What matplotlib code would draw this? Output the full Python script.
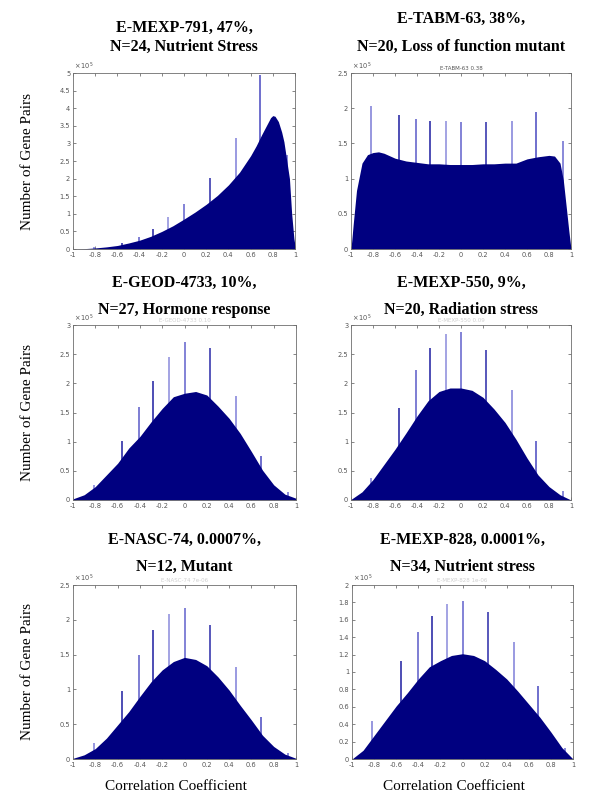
import matplotlib
matplotlib.use("Agg")
import matplotlib.pyplot as plt
from matplotlib.ticker import FormatStrFormatter

plt.rcParams["axes.unicode_minus"] = False

# x positions of the narrow spikes (same for all six data sets)
SPIKE_X = [-0.815, -0.56, -0.405, -0.28, -0.14, 0.0, 0.23, 0.465, 0.685, 0.93]

# envelope of each histogram, counts in units of 1e5
MEXP791_X = [-1, -0.9, -0.8, -0.7, -0.6, -0.5, -0.4, -0.3, -0.2, -0.1, 0, 0.1, 0.2,
             0.3, 0.4, 0.5, 0.6, 0.65, 0.7, 0.75, 0.78, 0.8, 0.82, 0.85, 0.88, 0.9,
             0.95, 0.97, 0.99, 1.0]
MEXP791_Y = [0.0, 0.01, 0.03, 0.06, 0.10, 0.17, 0.25, 0.36, 0.50, 0.66, 0.85, 1.05, 1.27,
             1.52, 1.82, 2.18, 2.65, 2.93, 3.25, 3.55, 3.73, 3.79, 3.77, 3.62, 3.32, 3.05,
             2.0, 1.0, 0.3, 0.1]
MEXP791_SPIKES = [0.05, 0.16, 0.33, 0.57, 0.90, 1.29, 2.01, 3.16, 4.94, 2.66]

TABM63_X = [-1, -0.98, -0.95, -0.9, -0.85, -0.8, -0.75, -0.7, -0.6, -0.5, -0.4, -0.3,
            -0.2, -0.1, 0, 0.1, 0.2, 0.3, 0.4, 0.5, 0.6, 0.7, 0.8, 0.85, 0.9, 0.93,
            0.96, 0.98, 1.0]
TABM63_Y = [0.0, 0.35, 0.83, 1.22, 1.34, 1.37, 1.38, 1.36, 1.29, 1.25, 1.23, 1.21,
            1.21, 1.20, 1.20, 1.20, 1.21, 1.21, 1.22, 1.22, 1.28, 1.31, 1.33, 1.32,
            1.22, 0.98, 0.55, 0.26, 0.0]
TABM63_SPIKES = [2.03, 1.90, 1.85, 1.82, 1.82, 1.80, 1.81, 1.82, 1.94, 1.53]

GRID_X = [-1, -0.9, -0.8, -0.7, -0.6, -0.5, -0.4, -0.3, -0.2, -0.1, 0,
          0.1, 0.2, 0.3, 0.4, 0.5, 0.6, 0.7, 0.8, 0.9, 1.0]

GEOD4733_Y = [0.02, 0.09, 0.23, 0.43, 0.63, 0.89, 1.09, 1.34, 1.57, 1.77, 1.83,
              1.86, 1.80, 1.61, 1.40, 1.14, 0.83, 0.51, 0.26, 0.10, 0.03]
GEOD4733_SPIKES = [0.26, 1.02, 1.60, 2.04, 2.46, 2.71, 2.60, 1.78, 0.76, 0.14]

MEXP550_Y = [0.01, 0.14, 0.35, 0.61, 0.87, 1.15, 1.44, 1.70, 1.86, 1.92, 1.92,
             1.88, 1.76, 1.56, 1.33, 1.04, 0.72, 0.43, 0.23, 0.09, 0.0]
MEXP550_SPIKES = [0.38, 1.58, 2.23, 2.60, 2.84, 2.88, 2.58, 1.89, 1.02, 0.15]

NASC74_Y = [0.01, 0.06, 0.15, 0.30, 0.49, 0.68, 0.90, 1.11, 1.28, 1.40, 1.46,
            1.43, 1.34, 1.18, 0.99, 0.77, 0.56, 0.34, 0.18, 0.07, 0.01]
NASC74_SPIKES = [0.23, 0.97, 1.49, 1.85, 2.08, 2.17, 1.93, 1.32, 0.61, 0.08]

MEXP828_Y = [0.0, 0.10, 0.27, 0.44, 0.61, 0.76, 0.92, 1.06, 1.13, 1.19, 1.21,
             1.19, 1.13, 1.03, 0.92, 0.78, 0.63, 0.48, 0.31, 0.13, 0.0]
MEXP828_SPIKES = [0.44, 1.13, 1.46, 1.64, 1.78, 1.82, 1.69, 1.34, 0.84, 0.13]

TITLES = [
    ("E-MEXP-791, 47%,", "N=24, Nutrient Stress"),
    ("E-TABM-63, 38%,", "N=20, Loss of function mutant"),
    ("E-GEOD-4733, 10%,", "N=27, Hormone response"),
    ("E-MEXP-550, 9%,", "N=20, Radiation stress"),
    ("E-NASC-74, 0.0007%,", "N=12, Mutant"),
    ("E-MEXP-828, 0.0001%,", "N=34, Nutrient stress"),
]
INNER_TITLES = ["", "E-TABM-63 0.38", "E-GEOD-4733 0.10", "E-MEXP-550 0.09",
                "E-NASC-74 7e-06", "E-MEXP-828 1e-06"]
X_TICKS = [-1, -0.8, -0.6, -0.4, -0.2, 0, 0.2, 0.4, 0.6, 0.8, 1]
Y_TICKS = [
    [0, 0.5, 1, 1.5, 2, 2.5, 3, 3.5, 4, 4.5, 5],
    [0, 0.5, 1, 1.5, 2, 2.5],
    [0, 0.5, 1, 1.5, 2, 2.5, 3],
    [0, 0.5, 1, 1.5, 2, 2.5, 3],
    [0, 0.5, 1, 1.5, 2, 2.5],
    [0, 0.2, 0.4, 0.6, 0.8, 1, 1.2, 1.4, 1.6, 1.8, 2],
]

NAVY = "#000080"
SPIKE_COLORS = ["#7b7bd6", "#1c1ca0", "#5a5ac8", "#1c1ca0", "#8a8adb",
                "#6060cc", "#2a2aa8", "#7f7fd8", "#4848c0", "#6a6ad0"]

W, H = 600, 809
# axes boxes in pixels: left, top, right, bottom
BOXES = [(73, 73, 295, 249), (351, 73, 571, 249),
         (73, 325, 296, 500), (351, 325, 571, 500),
         (73, 585, 296, 759), (352, 585, 573, 759)]
# title line centres (pixels from top)
TITLE_Y = [(28, 47), (19, 47), (283, 310), (283, 310), (540, 567), (540, 567)]

panels = [
    (MEXP791_X, MEXP791_Y, MEXP791_SPIKES),
    (TABM63_X, TABM63_Y, TABM63_SPIKES),
    (GRID_X, GEOD4733_Y, GEOD4733_SPIKES),
    (GRID_X, MEXP550_Y, MEXP550_SPIKES),
    (GRID_X, NASC74_Y, NASC74_SPIKES),
    (GRID_X, MEXP828_Y, MEXP828_SPIKES),
]

fig = plt.figure(figsize=(W / 100, H / 100), dpi=100)
serif = "Liberation Serif"

for i, (xs, ys, spikes) in enumerate(panels):
    l, t, r, b = BOXES[i]
    ax = fig.add_axes([l / W, 1 - b / H, (r - l) / W, (b - t) / H])
    ax.vlines(SPIKE_X, 0, spikes, colors=SPIKE_COLORS, lw=1.1, zorder=1)
    ax.fill_between(xs, ys, 0, color=NAVY, lw=0, zorder=2)
    ax.set_xlim(-1, 1)
    ax.set_ylim(0, Y_TICKS[i][-1])
    ax.set_xticks(X_TICKS)
    ax.set_yticks(Y_TICKS[i])
    ax.xaxis.set_major_formatter(FormatStrFormatter("%g"))
    ax.yaxis.set_major_formatter(FormatStrFormatter("%g"))
    ax.tick_params(direction="in", length=2.5, width=0.5, labelsize=4.8,
                   colors="#555555", top=True, right=True, pad=2)
    for s in ax.spines.values():
        s.set_color("#6e6e6e")
        s.set_linewidth(0.6)
    ax.text(0.005, 1.004, r"$\times\,10^{5}$", transform=ax.transAxes,
            fontsize=4.8, color="#555555", va="bottom", ha="left")
    if INNER_TITLES[i]:
        ax.text(0.5, 1.012, INNER_TITLES[i], transform=ax.transAxes, fontsize=4,
                color="#555555" if i == 1 else "#cfcfcf", ha="center", va="bottom")

    cx = (l + r) / 2 / W
    for line, ty in zip(TITLES[i], TITLE_Y[i]):
        fig.text(cx, 1 - ty / H, line, ha="center", va="center", fontsize=11.5,
                 fontweight="bold", family=serif)

    if i % 2 == 0:
        fig.text(28 / W, 1 - (t + b) / 2 / H, "Number of Gene Pairs", rotation=90,
                 ha="center", va="center", fontsize=11, family=serif)
    if i >= 4:
        fig.text(((l + r) / 2 - 9) / W, 1 - 787 / H, "Correlation Coefficient",
                 ha="center", va="center", fontsize=11, family=serif)

fig.savefig("out.png", dpi=100)
